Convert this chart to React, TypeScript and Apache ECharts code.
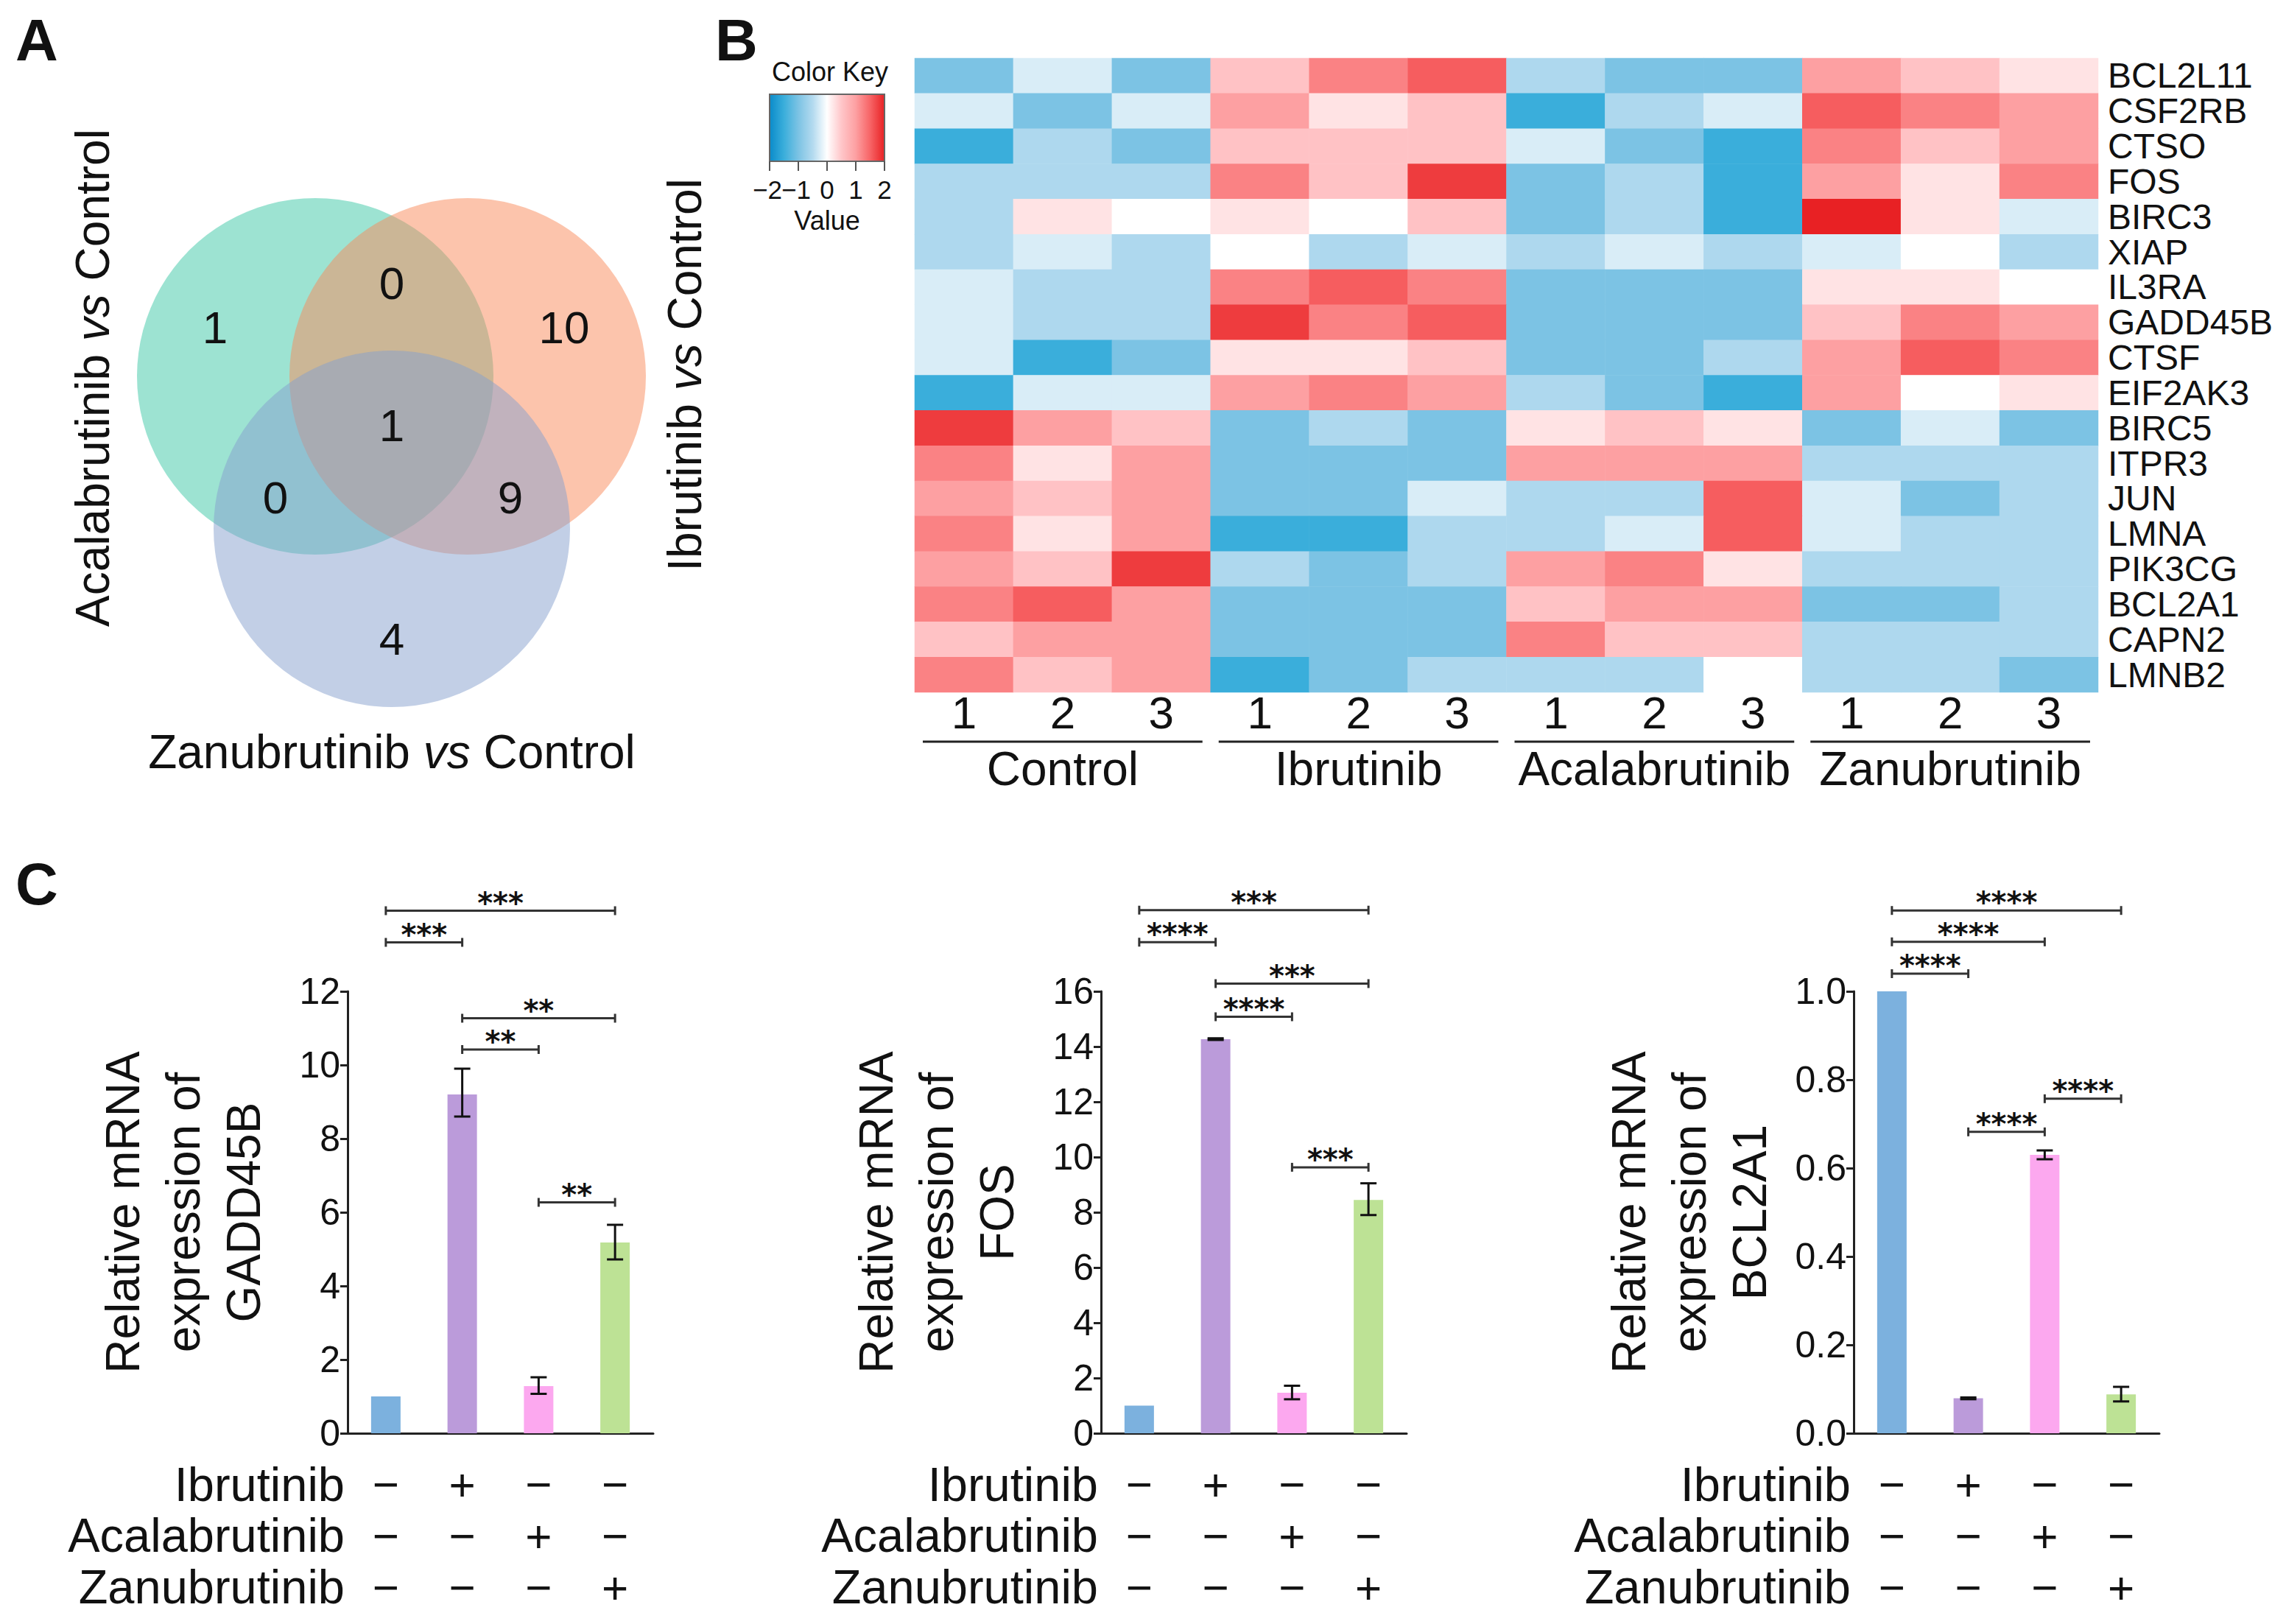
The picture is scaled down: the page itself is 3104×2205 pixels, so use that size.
import React, { useEffect, useRef } from 'react';
import * as echarts from 'echarts';

// ---------- DATA ----------
const vennSetLabels = ['Acalabrutinib', 'Ibrutinib', 'Zanubrutinib'];
// regions: A only, A∩I, I only, A∩I∩Z, A∩Z, I∩Z, Z only
const vennRegionCounts = [1, 0, 10, 1, 0, 9, 4];

const groups = ['Control', 'Ibrutinib', 'Acalabrutinib', 'Zanubrutinib'];
const replicates = ['1', '2', '3'];
const genes = ['BCL2L11', 'CSF2RB', 'CTSO', 'FOS', 'BIRC3', 'XIAP', 'IL3RA', 'GADD45B', 'CTSF', 'EIF2AK3',
  'BIRC5', 'ITPR3', 'JUN', 'LMNA', 'PIK3CG', 'BCL2A1', 'CAPN2', 'LMNB2'];
const heatValues = [
  [-1.0, -0.25, -1.0, 0.55, 1.25, 1.55, -0.55, -1.0, -1.0, 1.0, 0.55, 0.25],
  [-0.25, -1.0, -0.25, 1.0, 0.25, 0.55, -1.5, -0.55, -0.25, 1.55, 1.25, 1.0],
  [-1.5, -0.55, -1.0, 0.55, 0.55, 0.55, -0.25, -1.0, -1.5, 1.25, 0.55, 1.0],
  [-0.55, -0.55, -0.55, 1.25, 0.55, 1.8, -1.0, -0.55, -1.5, 1.0, 0.25, 1.25],
  [-0.55, 0.25, 0, 0.25, 0, 0.55, -1.0, -0.55, -1.5, 2.0, 0.25, -0.25],
  [-0.55, -0.25, -0.55, 0, -0.55, -0.25, -0.55, -0.25, -0.55, -0.25, 0, -0.55],
  [-0.25, -0.55, -0.55, 1.25, 1.55, 1.25, -1.0, -1.0, -1.0, 0.25, 0.25, 0],
  [-0.25, -0.55, -0.55, 1.8, 1.25, 1.55, -1.0, -1.0, -1.0, 0.55, 1.25, 1.0],
  [-0.25, -1.5, -1.0, 0.25, 0.25, 0.55, -1.0, -1.0, -0.55, 1.0, 1.55, 1.25],
  [-1.5, -0.25, -0.25, 1.0, 1.25, 1.0, -0.55, -1.0, -1.5, 1.0, 0, 0.25],
  [1.8, 1.0, 0.55, -1.0, -0.55, -1.0, 0.25, 0.55, 0.25, -1.0, -0.25, -1.0],
  [1.25, 0.25, 1.0, -1.0, -1.0, -1.0, 1.0, 1.0, 1.0, -0.55, -0.55, -0.55],
  [1.0, 0.55, 1.0, -1.0, -1.0, -0.25, -0.55, -0.55, 1.55, -0.25, -1.0, -0.55],
  [1.25, 0.25, 1.0, -1.5, -1.5, -0.55, -0.55, -0.25, 1.55, -0.25, -0.55, -0.55],
  [1.0, 0.55, 1.8, -0.55, -1.0, -0.55, 1.0, 1.25, 0.25, -0.55, -0.55, -0.55],
  [1.25, 1.55, 1.0, -1.0, -1.0, -1.0, 0.55, 1.0, 1.0, -1.0, -1.0, -0.55],
  [0.55, 1.0, 1.0, -1.0, -1.0, -1.0, 1.25, 0.55, 0.55, -0.55, -0.55, -0.55],
  [1.25, 0.55, 1.0, -1.5, -1.0, -0.55, -0.55, -0.55, 0, -0.55, -0.55, -1.0],
];
const colorKeyTicks = [-2, -1, 0, 1, 2];

const barCategories = ['Control', 'Ibrutinib', 'Acalabrutinib', 'Zanubrutinib'];
const treatmentRows = ['Ibrutinib', 'Acalabrutinib', 'Zanubrutinib'];
const treatmentSigns = [
  ['\u2212', '+', '\u2212', '\u2212'],
  ['\u2212', '\u2212', '+', '\u2212'],
  ['\u2212', '\u2212', '\u2212', '+'],
];

const gadd45bMean = [1.0, 9.2, 1.28, 5.18];
const gadd45bErr = [null, [8.6, 9.9], [1.07, 1.52], [4.72, 5.66]];
const gadd45bSig = [[0, 3, 14.19, '***'], [0, 1, 13.33, '***'], [1, 3, 11.27, '**'], [1, 2, 10.42, '**'], [2, 3, 6.27, '**']];
const gadd45bTicks = { max: 12, interval: 2 };

const fosMean = [1.0, 14.27, 1.47, 8.45];
const fosErr = [null, [14.24, 14.3], [1.23, 1.72], [7.9, 9.05]];
const fosSig = [[0, 3, 18.94, '***'], [0, 1, 17.78, '****'], [1, 3, 16.28, '***'], [1, 2, 15.08, '****'], [2, 3, 9.63, '***']];
const fosTicks = { max: 16, interval: 2 };

const bcl2a1Mean = [1.0, 0.079, 0.63, 0.088];
const bcl2a1Err = [null, [0.077, 0.081], [0.62, 0.64], [0.072, 0.105]];
const bcl2a1Sig = [[0, 3, 1.183, '****'], [0, 2, 1.112, '****'], [0, 1, 1.04, '****'], [2, 3, 0.757, '****'], [1, 2, 0.682, '****']];
const bcl2a1Ticks = { max: 1.0, interval: 0.2 };

// ---------- STYLE / LAYOUT ----------
const FONT = '"Liberation Sans", Arial, Helvetica, sans-serif';
const STAR_FONT = '"DejaVu Sans", "Liberation Sans", sans-serif';
const W = 3104;
const H = 2205;
const INK = '#111';
const HM = { left: 1242, top: 79, width: 1607, height: 861 };
const BAR_LEFTS = [472, 1495, 2517];
const BAR_TOP = 1346;
const BAR_H = 600;
const BAR_W = 415;
const TABLE_ROW_Y = [2015, 2084, 2154];
const barColors = ['#7cb1de', '#bb9bda', '#fca8ef', '#bde295'];
const heatColors = ['#0a8bca', '#3aaedb', '#7cc3e4', '#b3daef', '#ffffff', '#ffc6c9', '#fda0a2', '#f76466', '#e82124'];
const vennFills = ['rgba(59,199,165,0.5)', 'rgba(249,137,89,0.5)', 'rgba(133,159,205,0.5)'];
const VENN = { r: 242, centers: [[428, 511], [635, 511], [532, 718]] };
const vennLabelPos = [[292, 444], [532, 384], [766, 444], [532, 577], [374, 675], [693, 675], [532, 867]];

function buildOption() {
  const samples: string[] = [];
  groups.forEach((g) => replicates.forEach((r) => samples.push(g + ' ' + r)));
  const heatData: number[][] = [];
  heatValues.forEach((row, r) => row.forEach((v, c) => heatData.push([c, r, v])));

  const graphics: any[] = [];
  const letter = (t: string, x: number, y: number) => graphics.push({
    type: 'text', x, y, style: { text: t, fontSize: 80, fontWeight: 'bold', fontFamily: FONT, fill: INK, align: 'center', verticalAlign: 'middle' },
  });
  letter('A', 50, 54);
  letter('B', 1000, 54);
  letter('C', 50, 1200);

  // Venn circles
  VENN.centers.forEach((c, i) => graphics.push({
    type: 'circle', shape: { cx: c[0], cy: c[1], r: VENN.r }, style: { fill: vennFills[i] },
  }));
  vennRegionCounts.forEach((n, i) => graphics.push({
    type: 'text', x: vennLabelPos[i][0], y: vennLabelPos[i][1],
    style: { text: String(n), fontSize: 62, fontFamily: FONT, fill: INK, align: 'center', verticalAlign: 'middle' },
  }));
  const rich = {
    n: { fontSize: 64, fontFamily: FONT, fill: INK },
    i: { fontSize: 64, fontFamily: FONT, fill: INK, fontStyle: 'italic' },
  };
  const vsText = (name: string) => `{n|${name} }{i|vs}{n| Control}`;
  graphics.push({ type: 'text', x: 126, y: 513, rotation: Math.PI / 2,
    style: { text: vsText(vennSetLabels[0]), rich, align: 'center', verticalAlign: 'middle' } });
  graphics.push({ type: 'text', x: 930, y: 509, rotation: Math.PI / 2,
    style: { text: vsText(vennSetLabels[1]), rich, align: 'center', verticalAlign: 'middle' } });
  graphics.push({ type: 'text', x: 532, y: 1021,
    style: { text: vsText(vennSetLabels[2]), rich, align: 'center', verticalAlign: 'middle' } });

  // Color key
  const CK = { x: 1045, y: 128, w: 156, h: 91 };
  graphics.push({
    type: 'rect', shape: { x: CK.x, y: CK.y, width: CK.w, height: CK.h },
    style: {
      fill: new echarts.graphic.LinearGradient(0, 0, 1, 0, heatColors.map((c, i) => ({ offset: i / (heatColors.length - 1), color: c }))),
      stroke: '#666', lineWidth: 2,
    },
  });
  graphics.push({ type: 'text', x: CK.x + CK.w / 2 + 4, y: 97,
    style: { text: 'Color Key', fontSize: 36, fontFamily: FONT, fill: INK, align: 'center', verticalAlign: 'middle' } });
  colorKeyTicks.forEach((t) => {
    const x = CK.x + (CK.w * (t + 2)) / 4;
    graphics.push({ type: 'line', shape: { x1: x, y1: CK.y + CK.h, x2: x, y2: CK.y + CK.h + 13 }, style: { stroke: '#555', lineWidth: 2 } });
    graphics.push({ type: 'text', x: t < 0 ? x - 3 : x, y: 257,
      style: { text: t < 0 ? '\u2212' + Math.abs(t) : String(t), fontSize: 35, fontFamily: FONT, fill: INK, align: 'center', verticalAlign: 'middle' } });
  });
  graphics.push({ type: 'text', x: CK.x + CK.w / 2, y: 299,
    style: { text: 'Value', fontSize: 36, fontFamily: FONT, fill: INK, align: 'center', verticalAlign: 'middle' } });

  // group underlines
  const colW = HM.width / samples.length;
  groups.forEach((_g, gi) => {
    const x1 = HM.left + gi * 3 * colW + 11;
    const x2 = HM.left + (gi + 1) * 3 * colW - 11;
    graphics.push({ type: 'line', shape: { x1, y1: 1007, x2, y2: 1007 }, style: { stroke: '#222', lineWidth: 3 } });
  });

  // treatment row labels
  BAR_LEFTS.forEach((left) => {
    treatmentRows.forEach((t, ri) => graphics.push({
      type: 'text', x: left - 4, y: TABLE_ROW_Y[ri],
      style: { text: t, fontSize: 65, fontFamily: FONT, fill: INK, align: 'right', verticalAlign: 'middle' },
    }));
  });

  const barDefs = [
    { gene: 'GADD45B', mean: gadd45bMean, err: gadd45bErr, sig: gadd45bSig, ticks: gadd45bTicks, dec: 0 },
    { gene: 'FOS', mean: fosMean, err: fosErr, sig: fosSig, ticks: fosTicks, dec: 0 },
    { gene: 'BCL2A1', mean: bcl2a1Mean, err: bcl2a1Err, sig: bcl2a1Sig, ticks: bcl2a1Ticks, dec: 1 },
  ];

  const grids: any[] = [{ left: HM.left, top: HM.top, width: HM.width, height: HM.height, containLabel: false, outerBoundsMode: 'none' }];
  const xAxes: any[] = [
    {
      gridIndex: 0, type: 'category', data: samples, position: 'bottom',
      axisLine: { show: false }, axisTick: { show: false }, splitLine: { show: false },
      axisLabel: { interval: 0, formatter: (_v: string, i: number) => replicates[i % 3], fontSize: 62, lineHeight: 42, fontFamily: FONT, color: INK, margin: 6 },
    },
    {
      gridIndex: 0, type: 'category', data: groups, position: 'bottom',
      axisLine: { show: false }, axisTick: { show: false }, splitLine: { show: false },
      axisLabel: { interval: 0, fontSize: 64, lineHeight: 64, fontFamily: FONT, color: INK, margin: 72 },
    },
  ];
  const yAxes: any[] = [
    {
      gridIndex: 0, type: 'category', data: genes, inverse: true, position: 'right',
      axisLine: { show: false }, axisTick: { show: false }, splitLine: { show: false },
      axisLabel: { interval: 0, fontSize: 48, fontFamily: FONT, color: INK, margin: 13 },
    },
  ];
  const series: any[] = [
    {
      type: 'heatmap', xAxisIndex: 0, yAxisIndex: 0, data: heatData,
      itemStyle: { borderWidth: 0 }, emphasis: { disabled: true }, progressive: 0,
    },
  ];

  barDefs.forEach((d, k) => {
    const gi = k + 1;
    const xi = k + 2;
    const yi = k + 1;
    grids.push({ left: BAR_LEFTS[k], top: BAR_TOP, width: BAR_W, height: BAR_H, containLabel: false, outerBoundsMode: 'none' });
    xAxes.push({
      gridIndex: gi, type: 'category', data: barCategories, position: 'bottom',
      axisLine: { show: true, lineStyle: { color: '#222', width: 3 } }, axisTick: { show: false },
      axisLabel: {
        interval: 0, formatter: (_v: string, i: number) => treatmentSigns.map((r) => r[i]).join('\n'),
        fontSize: 62, lineHeight: 70, fontFamily: FONT, color: INK, margin: 34,
      },
    });
    yAxes.push({
      gridIndex: gi, type: 'value', min: 0, max: d.ticks.max, interval: d.ticks.interval,
      name: `Relative mRNA\nexpression of\n${d.gene}`, nameLocation: 'middle', nameGap: 100, nameRotate: 90,
      nameTextStyle: { fontSize: 64, lineHeight: 82, fontFamily: FONT, color: INK },
      axisLine: { show: true, lineStyle: { color: '#222', width: 3 } },
      axisTick: { show: true, length: 10, lineStyle: { color: '#222', width: 3 } },
      splitLine: { show: false },
      axisLabel: { fontSize: 50, fontFamily: FONT, color: INK, margin: 10, formatter: (v: number) => v.toFixed(d.dec) },
    });
    series.push({
      type: 'bar', xAxisIndex: xi, yAxisIndex: yi, barWidth: 40,
      data: d.mean.map((v, i) => ({ value: v, itemStyle: { color: barColors[i] } })),
    });
    const errData: number[][] = [];
    d.err.forEach((e, i) => { if (e) errData.push([i, e[0], e[1]]); });
    series.push({
      type: 'custom', xAxisIndex: xi, yAxisIndex: yi, clip: false, z: 5,
      data: errData,
      renderItem: (_p: any, api: any) => {
        const lo = api.coord([api.value(0), api.value(1)]);
        const hi = api.coord([api.value(0), api.value(2)]);
        const hw = 11;
        const st = { stroke: '#111', lineWidth: 3 };
        return {
          type: 'group', children: [
            { type: 'line', shape: { x1: hi[0], y1: hi[1], x2: lo[0], y2: lo[1] }, style: st },
            { type: 'line', shape: { x1: hi[0] - hw, y1: hi[1], x2: hi[0] + hw, y2: hi[1] }, style: st },
            { type: 'line', shape: { x1: lo[0] - hw, y1: lo[1], x2: lo[0] + hw, y2: lo[1] }, style: st },
          ],
        };
      },
    });
    const sig = d.sig;
    series.push({
      type: 'custom', xAxisIndex: xi, yAxisIndex: yi, clip: false, z: 5,
      data: sig.map((s) => [s[0], s[1], s[2]]),
      encode: { x: [0, 1], y: 2 },
      renderItem: (p: any, api: any) => {
        const y = api.value(2);
        const a = api.coord([api.value(0), y]);
        const b = api.coord([api.value(1), y]);
        const st = { stroke: '#333', lineWidth: 3 };
        return {
          type: 'group', children: [
            { type: 'line', shape: { x1: a[0], y1: a[1], x2: b[0], y2: b[1] }, style: st },
            { type: 'line', shape: { x1: a[0], y1: a[1] - 6, x2: a[0], y2: a[1] + 6 }, style: st },
            { type: 'line', shape: { x1: b[0], y1: b[1] - 6, x2: b[0], y2: b[1] + 6 }, style: st },
            {
              type: 'text', x: (a[0] + b[0]) / 2, y: a[1] - 11,
              style: { text: String(sig[p.dataIndex][3]), fontSize: 40, fontWeight: 'bold', fontFamily: STAR_FONT, fill: INK, align: 'center', verticalAlign: 'middle' },
            },
          ],
        };
      },
    });
  });

  return {
    animation: false,
    backgroundColor: '#ffffff',
    grid: grids,
    xAxis: xAxes,
    yAxis: yAxes,
    visualMap: {
      type: 'continuous', show: false, min: -2, max: 2, seriesIndex: 0, dimension: 2,
      inRange: { color: heatColors },
    },
    series,
    graphic: graphics,
  };
}

export default function App() {
  const ref = useRef<HTMLDivElement>(null);
  useEffect(() => {
    document.body.style.margin = '0';
    const chart = echarts.init(ref.current as HTMLDivElement, null, { renderer: 'svg', width: W, height: H });
    chart.setOption(buildOption() as any);
    return () => chart.dispose();
  }, []);
  return <div ref={ref} style={{ width: W, height: H, background: '#fff' }} />;
}
